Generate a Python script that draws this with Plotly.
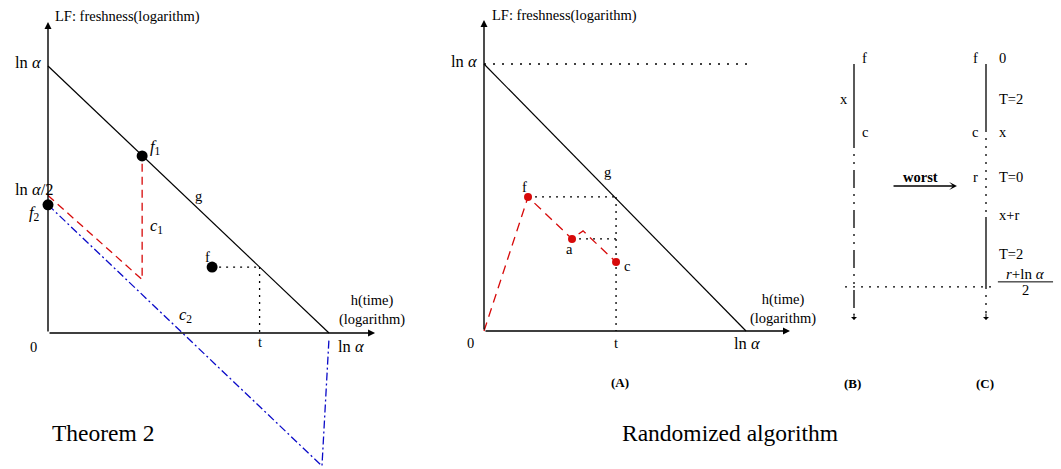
import plotly.graph_objects as go

W, H = 1061, 469

# ---------------- data (diagram units: ln α = 1 on both axes) ----------------
# Panel "Theorem 2"
th_g_x = [0.0, 1.0]
th_g_y = [1.0, 0.0]
th_points_x = [0.335, 0.0, 0.584]      # f1, f2, f
th_points_y = [0.663, 0.48, 0.247]
th_c1_x = [0.0, 0.335, 0.335]
th_c1_y = [0.515, 0.20, 0.663]
th_c2_x = [0.0, 0.975, 1.0]
th_c2_y = [0.48, -0.498, -0.02]
th_t = 0.753

# Panel "Randomized algorithm" (A)
ra_g_x = [0.0, 1.0]
ra_g_y = [1.0, 0.0]
ra_path_x = [0.0, 0.168, 0.336, 0.378, 0.504]
ra_path_y = [0.0, 0.502, 0.345, 0.375, 0.258]
ra_points_x = [0.168, 0.336, 0.504]    # f, a, c
ra_points_y = [0.502, 0.345, 0.258]
ra_t = 0.504

# Panels (B), (C): levels on the same vertical scale as (A)
col_B, col_C = 0.0, 1.0
lvl_f = 1.0
lvl_c = 0.753
lvl_xr = 0.427
lvl_mid = 0.165
lvl_end = 0.041
C_right_labels = ["0", "T=2", "x", "T=0", "x+r", "T=2"]
C_right_levels = [1.022, 0.869, 0.745, 0.577, 0.434, 0.288]
C_left_labels = ["f", "c", "r"]
C_left_levels = [1.022, 0.745, 0.577]
B_labels = ["f", "c"]
B_levels = [1.022, 0.745]

# ---------------- layout helpers ----------------
SERIF = "Liberation Serif"
RED = "rgb(215,10,10)"
BLUE = "rgb(10,10,200)"
SMALL = 14.5
MATH = 16.5


def axes(px0, px1, ox, oy, sx, sy, anchor):
    xa = dict(domain=[px0 / W, px1 / W], range=[(px0 - ox) / sx, (px1 - ox) / sx],
              visible=False, fixedrange=True, anchor="y" + anchor)
    ya = dict(domain=[0, 1], range=[(oy - H) / sy, oy / sy],
              visible=False, fixedrange=True, anchor="x" + anchor)
    return xa, ya


x1, y1 = axes(0, 410, 48, 333, 281, 267, "")
x2, y2 = axes(410, 815, 484, 331, 262, 267, "2")
x3, y3 = axes(815, 1061, 854, 331, 132, 267, "3")

fig = go.Figure()


def line(xs, ys, p, color="black", width=1.3, dash="solid"):
    fig.add_trace(go.Scatter(x=xs, y=ys, xaxis="x" + p, yaxis="y" + p, mode="lines",
                             line=dict(color=color, width=width, dash=dash),
                             hoverinfo="skip", showlegend=False))


def dots(xs, ys, p, color, size):
    fig.add_trace(go.Scatter(x=xs, y=ys, xaxis="x" + p, yaxis="y" + p, mode="markers",
                             marker=dict(color=color, size=size, line=dict(width=0)),
                             hoverinfo="skip", showlegend=False))


annos = []


def txt(x, y, s, p, size=SMALL, xa="center", font=SERIF):
    annos.append(dict(x=x, y=y, xref="x" + p, yref="y" + p, text=s, showarrow=False,
                      xanchor=xa, yanchor="middle", font=dict(family=font, size=size, color="black")))


def arrow(x0, y0, x1_, y1_, p, head=2, size=1.0, width=1.4):
    annos.append(dict(x=x1_, y=y1_, ax=x0, ay=y0, xref="x" + p, yref="y" + p,
                      axref="x" + p, ayref="y" + p, text="", showarrow=True,
                      arrowhead=head, arrowsize=size, arrowwidth=width, arrowcolor="black",
                      standoff=0, startstandoff=0))


# ---------------- Panel 1: Theorem 2 ----------------
p = ""
arrow(0, 0, 0, 1.165, p)
arrow(0, 0, 1.164, 0, p)
line(th_g_x, th_g_y, p, width=1.2)
line(th_c2_x, th_c2_y, p, color=BLUE, width=1.3, dash="8px,3px,2px,3px")
line(th_c1_x, th_c1_y, p, color=RED, width=1.3, dash="8px,5px")
line([th_points_x[2], th_t], [th_points_y[2]] * 2, p, width=1.3, dash="2px,5px")
line([th_t, th_t], [th_points_y[2], 0], p, width=1.3, dash="2px,5px")
dots(th_points_x, th_points_y, p, "black", 11)

txt(0.018, 1.187, "LF: freshness(logarithm)", p, SMALL, "left")
txt(-0.018, 1.015, "ln <i>α</i>", p, MATH, "right")
txt(-0.125, 0.539, "ln <i>α</i>/2", p, MATH, "left")
txt(-0.021, 0.449, "<i>f</i><sub>2</sub>", p, MATH, "right")
txt(0.356, 0.697, "<i>f</i><sub>1</sub>", p, MATH, "left")
txt(0.534, 0.513, "g", p)
txt(0.356, 0.401, "<i>c</i><sub>1</sub>", p, MATH, "left")
txt(0.488, 0.067, "<i>c</i><sub>2</sub>", p, MATH)
txt(0.569, 0.285, "f", p)
txt(th_t, -0.034, "t", p)
txt(-0.053, -0.052, "0", p)
txt(1.025, -0.052, "ln <i>α</i>", p, MATH, "left")
txt(1.028, 0.085, "h(time)<br>(logarithm)", p, SMALL, "left")
txt(0.007, -0.375, "Theorem 2", p, 23.5, "left")

# ---------------- Panel 2: Randomized algorithm (A) ----------------
p = "2"
arrow(0, 0, 0, 1.165, p)
arrow(0, 0, 1.168, 0, p)
line([0, 1.004], [1, 1], p, width=1.3, dash="2px,7px")
line(ra_g_x, ra_g_y, p, width=1.2)
line([ra_points_x[0], ra_t], [ra_points_y[0]] * 2, p, width=1.3, dash="2px,5px")
line([ra_points_x[1], ra_t], [ra_points_y[1]] * 2, p, width=1.3, dash="2px,5px")
line([ra_t, ra_t], [ra_points_y[0], 0], p, width=1.3, dash="2px,5px")
line(ra_path_x, ra_path_y, p, color=RED, width=1.3, dash="9px,6px")
dots(ra_points_x, ra_points_y, p, RED, 8)

txt(0.023, 1.18, "LF: freshness(logarithm)", p, SMALL, "left")
txt(-0.019, 1.011, "ln <i>α</i>", p, MATH, "right")
txt(0.473, 0.596, "g", p)
txt(0.156, 0.539, "f", p)
txt(0.328, 0.307, "a", p)
txt(0.527, 0.243, "c", p, SMALL, "left")
txt(-0.05, -0.045, "0", p)
txt(ra_t, -0.045, "t", p)
txt(1.004, -0.045, "ln <i>α</i>", p, MATH)
txt(1.008, 0.082, "h(time)<br>(logarithm)", p, SMALL, "left")
txt(0.519, -0.191, "<b>(A)</b>", p, 13)
txt(0.519, -0.382, "Randomized algorithm", p, 23.5, "left")

# ---------------- Panels (B), (C) ----------------
p = "3"
# B column
line([col_B, col_B], [lvl_f, lvl_c], p, width=1.3)
line([col_B, col_B], [lvl_c, lvl_end + 0.02], p, width=1.3, dash="18px,6px,2px,6px,2px,6px")
arrow(col_B, lvl_end + 0.03, col_B, lvl_end, p, head=1, size=1.0, width=1.0)
# C column
line([col_C, col_C], [lvl_f, lvl_c], p, width=1.3)
line([col_C, col_C], [lvl_c, lvl_xr], p, width=1.3, dash="2px,6px")
line([col_C, col_C], [lvl_xr, lvl_mid], p, width=1.3)
line([col_C, col_C], [lvl_mid, lvl_end + 0.02], p, width=1.3, dash="2px,6px")
arrow(col_C, lvl_end + 0.03, col_C, lvl_end, p, head=1, size=1.0, width=1.0)
# horizontal dotted guide
line([-0.068, 1.053], [lvl_mid, lvl_mid], p, width=1.3, dash="2px,6px")
# fraction bar
line([1.09, 1.508], [0.184, 0.184], p, width=1.0)

for s, lv in zip(B_labels, B_levels):
    txt(col_B + 0.045, lv, s, p, SMALL, "left")
txt(col_B - 0.03, 0.869, "x", p, SMALL, "right")
for s, lv in zip(C_left_labels, C_left_levels):
    txt(col_C - 0.045, lv, s, p, SMALL, "right")
for s, lv in zip(C_right_labels, C_right_levels):
    txt(col_C + 0.083, lv, s, p, SMALL, "left")
txt(1.30, 0.212, "<i>r</i>+ln <i>α</i>", p, 15)
txt(1.30, 0.152, "2", p, SMALL)
txt(0.5, 0.577, "<b>worst</b>", p, SMALL)
arrow(0.288, 0.543, 0.78, 0.543, p, head=3, size=1.0, width=1.3)
txt(col_B - 0.015, -0.195, "<b>(B)</b>", p, 13)
txt(col_C - 0.008, -0.195, "<b>(C)</b>", p, 13)

fig.update_layout(
    width=W, height=H, margin=dict(l=0, r=0, t=0, b=0),
    paper_bgcolor="white", plot_bgcolor="white",
    xaxis=x1, yaxis=y1, xaxis2=x2, yaxis2=y2, xaxis3=x3, yaxis3=y3,
    annotations=annos, showlegend=False, hovermode=False,
)

fig.write_html("out.html", config={"displayModeBar": False, "staticPlot": True},
               post_script="document.body.style.margin='0px';document.body.style.overflow='hidden';")
